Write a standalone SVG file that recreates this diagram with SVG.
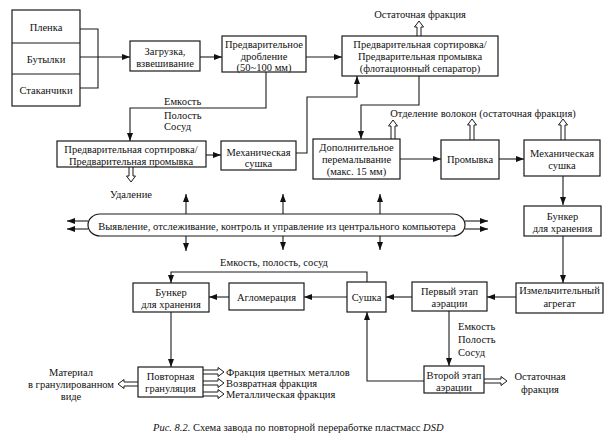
<svg xmlns="http://www.w3.org/2000/svg" width="612" height="442" viewBox="0 0 612 442">
<style>
.b{fill:#fff;stroke:#1a1a1a;stroke-width:1.2}
.c{fill:none;stroke:#1a1a1a;stroke-width:1.1}
.h{fill:#fff;stroke:#1a1a1a;stroke-width:1}
text{font-family:"Liberation Serif",serif;font-size:10.5px;fill:#111}
.m{text-anchor:middle}
</style>
<defs>
<marker id="ar" viewBox="0 0 8 6" refX="8" refY="3" markerWidth="8" markerHeight="6" markerUnits="userSpaceOnUse" orient="auto-start-reverse"><path d="M0,0 L8,3 L0,6 z" fill="#111"/></marker>
</defs>
<rect width="612" height="442" fill="#fff"/>

<g id="connectors">
<path class="c" d="M80,29 H98 V88 H80"/>
<path class="c" d="M80,57 H130" marker-end="url(#ar)"/>
<path class="c" d="M200,57 H222" marker-end="url(#ar)"/>
<path class="c" d="M306,57 H342" marker-end="url(#ar)"/>
<path class="c" d="M266,72 V108 H130 V141" marker-end="url(#ar)"/>
<path class="c" d="M206,155 H221" marker-end="url(#ar)"/>
<path class="c" d="M296,153 H307 V97 H357 V76" marker-end="url(#ar)"/>
<path class="c" d="M419,76 V105 H361 V139" marker-end="url(#ar)"/>
<path class="c" d="M400,159 H441" marker-end="url(#ar)"/>
<path class="c" d="M499,159 H524" marker-end="url(#ar)"/>
<path class="c" d="M563,176 V205" marker-end="url(#ar)"/>
<path class="c" d="M563,235 V283" marker-end="url(#ar)"/>
<path class="c" d="M516,297 H487" marker-end="url(#ar)"/>
<path class="c" d="M412,297 H386" marker-end="url(#ar)"/>
<path class="c" d="M347,297 H304" marker-end="url(#ar)"/>
<path class="c" d="M229,297 H209" marker-end="url(#ar)"/>
<path class="c" d="M367,282 V272 H171 V283" marker-end="url(#ar)"/>
<path class="c" d="M171,312 V367" marker-end="url(#ar)"/>
<path class="c" d="M449,311 V366" marker-end="url(#ar)"/>
<path class="c" d="M424,381 H367 V312" marker-end="url(#ar)"/>
<path class="c" d="M88,221 H67" marker-end="url(#ar)"/>
<path class="c" d="M88,229 H67" marker-end="url(#ar)"/>
<path class="c" d="M465,221 H488" marker-end="url(#ar)"/>
<path class="c" d="M465,229 H488" marker-end="url(#ar)"/>
<path class="c" d="M186,214 V194" marker-end="url(#ar)"/>
<path class="c" d="M186,236 V251" marker-end="url(#ar)"/>
<path class="c" d="M283,214 V194" marker-end="url(#ar)"/>
<path class="c" d="M283,236 V250" marker-end="url(#ar)"/>
<path class="c" d="M380,214 V194" marker-end="url(#ar)"/>
<path class="c" d="M380,236 V250" marker-end="url(#ar)"/>
<polyline class="h" points="417,36 417,27 414.5,27 419,21 423.5,27 421,27 421,36"/>
<polyline class="h" points="129,167 129,176 126.5,176 131,182 135.5,176 133,176 133,167"/>
<polyline class="h" points="391,139 391,126 388.5,126 393,120 397.5,126 395,126 395,139"/>
<polyline class="h" points="470,140 470,125 467.5,125 472,119 476.5,125 474,125 474,140"/>
<polyline class="h" points="561,140 561,125 558.5,125 563,119 567.5,125 565,125 565,140"/>
<polyline class="h" points="138,382 124,382 124,379.5 118,384 124,388.5 124,386 138,386"/>
<polyline class="h" points="203,370 218,370 218,367.5 224,372 218,376.5 218,374 203,374"/>
<polyline class="h" points="203,381 218,381 218,378.5 224,383 218,387.5 218,385 203,385"/>
<polyline class="h" points="203,392 218,392 218,389.5 224,394 218,398.5 218,396 203,396"/>
<polyline class="h" points="484,379 501,379 501,376.5 507,381 501,385.5 501,383 484,383"/>
</g>

<g id="inputs">
<rect class="b" x="12" y="10" width="68" height="96"/>
<line class="c" x1="12" y1="43" x2="80" y2="43"/>
<line class="c" x1="12" y1="74" x2="80" y2="74"/>
<text class="m" x="46" y="30.5">Пленка</text>
<text class="m" x="46" y="62.5">Бутылки</text>
<text class="m" x="46" y="93.5">Стаканчики</text>
</g>

<g id="loading">
<rect class="b" x="130" y="41" width="70" height="30"/>
<text class="m" x="165" y="54.5">Загрузка,</text>
<text class="m" x="165" y="66.5">взвешивание</text>
</g>

<g id="precrush">
<rect class="b" x="222" y="36" width="84" height="36"/>
<text class="m" x="264" y="47.5">Предварительное</text>
<text class="m" x="264" y="59.5">дробление</text>
<text class="m" x="264" y="70.5">(50~100 мм)</text>
</g>

<g id="flotation">
<rect class="b" x="342" y="36" width="156" height="40"/>
<text class="m" x="420" y="47.5">Предварительная сортировка/</text>
<text class="m" x="420" y="59.5">Предварительная промывка</text>
<text class="m" x="420" y="71.5">(флотационный сепаратор)</text>
<text class="m" x="420" y="17.5">Остаточная фракция</text>
</g>

<g id="presort">
<rect class="b" x="57" y="141" width="149" height="26"/>
<text class="m" x="131" y="153">Предварительная сортировка/</text>
<text class="m" x="131" y="165">Предварительная промывка</text>
<text class="m" x="131" y="197.5">Удаление</text>
<text x="164" y="104.5">Емкость</text>
<text x="164" y="118.5">Полость</text>
<text x="164" y="129.5">Сосуд</text>
</g>

<g id="mechdry1">
<rect class="b" x="221" y="141" width="75" height="29"/>
<text class="m" x="258.5" y="155.5">Механическая</text>
<text class="m" x="258.5" y="166.5">сушка</text>
</g>

<g id="regrind">
<rect class="b" x="313" y="139" width="87" height="40"/>
<text class="m" x="356.5" y="150.5">Дополнительное</text>
<text class="m" x="356.5" y="162.5">перемалывание</text>
<text class="m" x="356.5" y="174.5">(макс. 15 мм)</text>
<text class="m" x="483" y="117">Отделение волокон (остаточная фракция)</text>
</g>

<g id="wash">
<rect class="b" x="441" y="140" width="58" height="39"/>
<text class="m" x="470" y="163">Промывка</text>
</g>

<g id="mechdry2">
<rect class="b" x="524" y="140" width="76" height="36"/>
<text class="m" x="562" y="156.5">Механическая</text>
<text class="m" x="562" y="168.5">сушка</text>
</g>

<g id="computer">
<rect class="b" x="88" y="214" width="377" height="22" rx="12" ry="11"/>
<text class="m" x="277" y="229.5">Выявление, отслеживание, контроль и управление из центрального компьютера</text>
</g>

<g id="bunker1">
<rect class="b" x="524" y="206" width="77" height="30"/>
<text class="m" x="562.5" y="219.5">Бункер</text>
<text class="m" x="562.5" y="231.5">для хранения</text>
</g>

<g id="shredder">
<rect class="b" x="516" y="283" width="87" height="30"/>
<text class="m" x="559.5" y="293.5">Измельчительный</text>
<text class="m" x="559.5" y="306.5">агрегат</text>
</g>

<g id="aeration1">
<rect class="b" x="412" y="282" width="75" height="29"/>
<text class="m" x="449.5" y="294.5">Первый этап</text>
<text class="m" x="449.5" y="307">аэрации</text>
</g>

<g id="dryer">
<rect class="b" x="347" y="282" width="39" height="30"/>
<text class="m" x="366.5" y="300.5">Сушка</text>
<text class="m" x="274" y="265.5">Емкость, полость, сосуд</text>
</g>

<g id="agglom">
<rect class="b" x="229" y="283" width="75" height="27"/>
<text class="m" x="266.5" y="300.5">Агломерация</text>
</g>

<g id="bunker2">
<rect class="b" x="133" y="283" width="76" height="29"/>
<text class="m" x="171" y="295.5">Бункер</text>
<text class="m" x="171" y="307.5">для хранения</text>
</g>

<g id="regranul">
<rect class="b" x="138" y="367" width="65" height="30"/>
<text class="m" x="170.5" y="379.5">Повторная</text>
<text class="m" x="170.5" y="391.5">грануляция</text>
<text class="m" x="71" y="375.5">Материал</text>
<text class="m" x="71" y="387.5">в гранулированном</text>
<text class="m" x="71" y="399.5">виде</text>
<text x="226" y="375.5">Фракция цветных металлов</text>
<text x="226" y="386.5">Возвратная фракция</text>
<text x="226" y="398">Металлическая фракция</text>
</g>

<g id="aeration2">
<rect class="b" x="424" y="366" width="60" height="27"/>
<text class="m" x="454" y="378.5">Второй этап</text>
<text class="m" x="454" y="391">аэрации</text>
<text x="458" y="329.5">Емкость</text>
<text x="458" y="342.5">Полость</text>
<text x="458" y="355.5">Сосуд</text>
<text class="m" x="540" y="379.5">Остаточная</text>
<text class="m" x="540" y="392.5">фракция</text>
</g>

<text x="153" y="431"><tspan font-style="italic">Рис. 8.2.</tspan> Схема завода по повторной переработке пластмасс <tspan font-style="italic">DSD</tspan></text>
</svg>
